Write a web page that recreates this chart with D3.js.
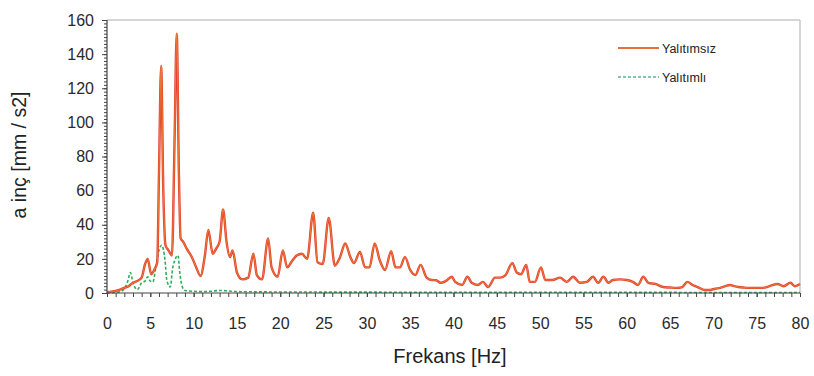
<!DOCTYPE html>
<html>
<head>
<meta charset="utf-8">
<script src="https://cdn.jsdelivr.net/npm/d3@7"></script>
<style>
  html, body { margin: 0; padding: 0; background: #fff; }
  svg { display: block; font-family: "Liberation Sans", Arial, sans-serif; }
</style>
</head>
<body>
<svg id="chart" width="814" height="376"></svg>
<script>
// Acceleration spectrum, uninsulated vs insulated
const seriesNames = ["Yalıtımsız", "Yalıtımlı"];

const freqUninsulated = [
  0, 0.5, 1, 1.5, 2, 2.5, 3, 3.5, 4, 4.4, 4.7, 5.1, 5.5, 5.8, 6.0, 6.25, 6.5, 6.75,
  7.1, 7.5, 7.8, 8.05, 8.3, 8.5, 8.8, 9.2, 9.8, 10.3, 10.8, 11.3, 11.7, 12.2, 12.6,
  13.0, 13.4, 13.8, 14.2, 14.5, 15.0, 15.6, 16.3, 16.9, 17.3, 17.9, 18.6, 19.0, 19.7,
  20.3, 20.8, 21.4, 21.9, 22.5, 23.1, 23.8, 24.3, 24.9, 25.6, 26.3, 26.9, 27.5, 28.1,
  28.5, 29.2, 29.8, 30.3, 30.9, 31.5, 32.1, 32.8, 33.3, 33.8, 34.4, 35.0, 35.6, 36.2,
  36.9, 37.5, 38.0, 38.5, 39.1, 39.8, 40.2, 41.0, 41.6, 42.1, 42.8, 43.4, 44.0, 44.8,
  45.4, 46.0, 46.8, 47.3, 47.8, 48.4, 48.8, 49.4, 50.1, 50.6, 51.4, 52.3, 53.1, 53.8,
  54.6, 55.4, 56.1, 56.7, 57.3, 57.9, 58.4, 59.2, 60.0, 60.7, 61.3, 61.9, 62.5, 63.3,
  64.2, 65.0, 65.8, 66.4, 67.0, 67.6, 68.2, 69.0, 69.6, 70.2, 70.8, 71.4, 71.9, 72.4,
  72.9, 73.5, 74.2, 75.0, 75.7, 76.5, 77.4, 78.1, 78.9, 79.4, 80
];
const accUninsulated = [
  0.5, 0.8, 1.2, 2, 3, 4, 6, 7, 9, 17, 20, 11, 14, 18, 70, 133, 60, 28,
  25, 22, 90, 152, 70, 32, 30, 26, 21, 15, 10, 22, 37, 23, 26,
  30, 49, 30, 21, 25, 12, 8, 9, 23, 10.5, 8, 32, 15, 9.5,
  25, 15, 19, 22, 23, 20, 47, 18, 17, 44, 16, 21, 29, 21,
  17.5, 24, 15, 15, 29, 19, 13.5, 24.5, 15, 15, 21, 13.5, 10.5, 16.5,
  9, 7.6, 7.5, 6, 7, 9.5, 6.5, 4.7, 9.5, 6, 4.7, 6.5, 3.5, 9,
  9, 10.5, 17.5, 12, 11, 16.5, 6.5, 6.5, 15, 7.6, 7.6, 9, 6.5, 9.5,
  6, 6.5, 9.5, 6, 9.5, 6, 7.6, 8, 7.6, 6.5, 4.7, 9.5, 6, 5.3,
  3.5, 3.2, 3, 3.5, 6.5, 4.7, 3.5, 1.8, 1.8, 2.5, 3, 4, 4.7, 4,
  3.5, 3.2, 3, 3, 3, 4, 5.3, 4, 6, 4, 5.3
];

const freqInsulated = [
  0, 1, 1.5, 2, 2.4, 2.7, 3.0, 3.5, 4.0, 4.4, 4.7, 5.0, 5.3, 5.6, 5.9, 6.3, 6.7, 6.9,
  7.3, 7.6, 8.2, 8.4, 8.7, 9.0, 10, 11, 12, 13, 14, 15, 20, 30, 40, 50, 60, 70, 80
];
const accInsulated = [
  0, 0.3, 0.8, 2.5, 7, 12, 6, 2, 6, 7, 9.5, 7, 6.5, 14, 23, 28, 19, 7.6,
  3.5, 15, 22, 12, 3.5, 1.5, 1, 0.8, 1, 1.5, 1.2, 0.8, 0.6, 0.5, 0.4, 0.4, 0.4, 0.3, 0.3
];

const xTicks = [0, 5, 10, 15, 20, 25, 30, 35, 40, 45, 50, 55, 60, 65, 70, 75, 80];
const yTicks = [0, 20, 40, 60, 80, 100, 120, 140, 160];

const svg = d3.select("#chart");
const plot = { left: 107, right: 800, top: 20, bottom: 293 };

const x = d3.scaleLinear().domain([0, 80]).range([plot.left, plot.right]);
const y = d3.scaleLinear().domain([0, 160]).range([plot.bottom, plot.top]);

// frame: light top and right borders
svg.append("line")
  .attr("x1", plot.left).attr("x2", plot.right)
  .attr("y1", plot.top).attr("y2", plot.top)
  .attr("stroke", "#c8c8c8").attr("stroke-width", 1.5);
svg.append("line")
  .attr("x1", plot.right).attr("x2", plot.right)
  .attr("y1", plot.top).attr("y2", plot.bottom)
  .attr("stroke", "#c8c8c8").attr("stroke-width", 1.5);

const line = d3.line().curve(d3.curveMonotoneX)
  .x(d => x(d[0])).y(d => y(d[1]));

const redData = freqUninsulated.map((f, i) => [f, accUninsulated[i]]);
const greenData = freqInsulated.map((f, i) => [f, accInsulated[i]]);

// insulated series (dashed green)
svg.append("path").datum(greenData)
  .attr("d", line).attr("fill", "none")
  .attr("stroke", "#2fae5a").attr("stroke-width", 1.6)
  .attr("stroke-dasharray", "3,2");

// uninsulated series: red body with orange core
svg.append("path").datum(redData)
  .attr("d", line).attr("fill", "none")
  .attr("stroke", "#e2402c").attr("stroke-width", 2.4)
  .attr("stroke-linejoin", "round");
svg.append("path").datum(redData)
  .attr("d", line).attr("fill", "none")
  .attr("stroke", "#f08a3a").attr("stroke-width", 0.8)
  .attr("stroke-linejoin", "round");

// y axis with minor ticks
const yAxis = svg.append("g").attr("transform", `translate(${plot.left},0)`);
yAxis.call(d3.axisLeft(y).tickValues(d3.range(0, 161, 2)).tickSize(3).tickFormat(""));
yAxis.append("g").call(d3.axisLeft(y).tickValues(yTicks).tickSize(5).tickPadding(8));
yAxis.selectAll(".domain").remove();
yAxis.selectAll("line").attr("stroke", "#444");
yAxis.append("line").attr("y1", plot.top).attr("y2", plot.bottom)
  .attr("stroke", "#444").attr("stroke-width", 1.2);
yAxis.selectAll("text")
  .attr("font-size", 16).attr("fill", "#2a2a2a")
  .attr("font-family", "Liberation Sans, Arial, sans-serif");

// x axis with minor ticks
const xAxis = svg.append("g").attr("transform", `translate(0,${plot.bottom})`);
xAxis.call(d3.axisBottom(x).tickValues(d3.range(0, 81, 1)).tickSize(4).tickFormat(""));
xAxis.append("g").call(d3.axisBottom(x).tickValues(xTicks).tickSize(4).tickPadding(21));
xAxis.selectAll(".domain").remove();
xAxis.selectAll("line").attr("stroke", "#444");
xAxis.append("line").attr("x1", plot.left).attr("x2", plot.right)
  .attr("stroke", "#444").attr("stroke-width", 1.2);
xAxis.selectAll("text")
  .attr("font-size", 16).attr("fill", "#2a2a2a")
  .attr("font-family", "Liberation Sans, Arial, sans-serif");

// axis titles
svg.append("text")
  .attr("x", 450).attr("y", 363)
  .attr("text-anchor", "middle")
  .attr("font-size", 20).attr("fill", "#222")
  .text("Frekans [Hz]");
svg.append("text")
  .attr("transform", "translate(26,155) rotate(-90)")
  .attr("text-anchor", "middle")
  .attr("font-size", 19.5).attr("fill", "#222")
  .text("a inç [mm / s2]");

// legend
const legend = svg.append("g");
const legendRows = [
  { name: seriesNames[0], y: 48, color: "#e0703a", dash: null, width: 2.2 },
  { name: seriesNames[1], y: 77, color: "#5fb38a", dash: "3,2", width: 1.6 }
];
legendRows.forEach(r => {
  legend.append("line")
    .attr("x1", 618).attr("x2", 659).attr("y1", r.y).attr("y2", r.y)
    .attr("stroke", r.color).attr("stroke-width", r.width)
    .attr("stroke-dasharray", r.dash);
  legend.append("text")
    .attr("x", 662).attr("y", r.y + 4.5)
    .attr("font-size", 12.5).attr("fill", "#222")
    .text(r.name);
});
</script>
</body>
</html>
